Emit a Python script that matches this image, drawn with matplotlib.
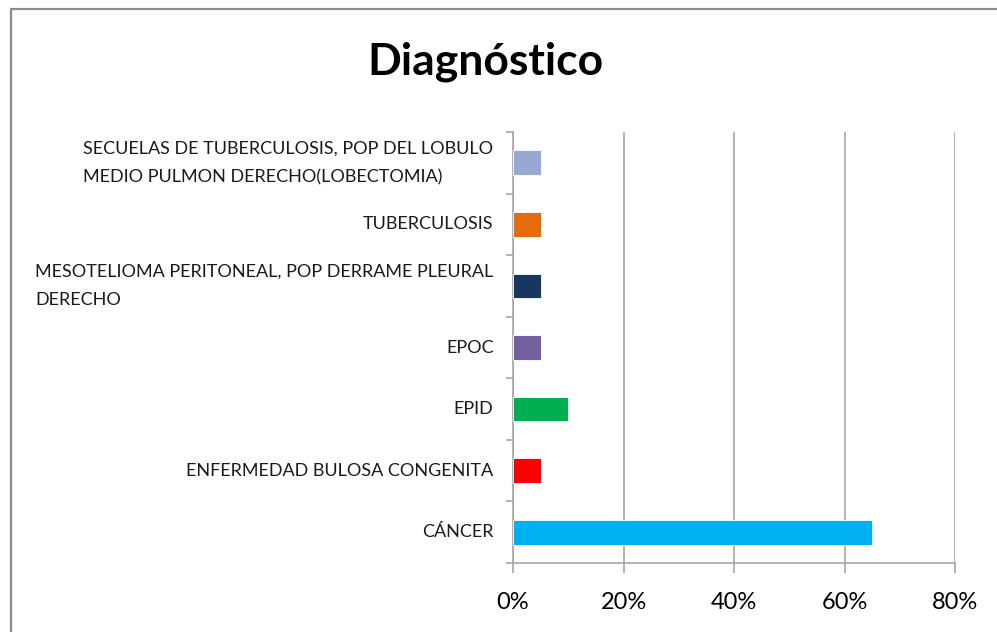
import matplotlib.pyplot as plt
from matplotlib.patches import Rectangle
from matplotlib.ticker import PercentFormatter

# Diagnósticos (de abajo hacia arriba) y porcentaje de pacientes
diagnosticos = [
    'CÁNCER',
    'ENFERMEDAD BULOSA CONGENITA',
    'EPID',
    'EPOC',
    'MESOTELIOMA PERITONEAL, POP DERRAME PLEURAL\nDERECHO',
    'TUBERCULOSIS',
    'SECUELAS DE TUBERCULOSIS, POP DEL LOBULO\nMEDIO PULMON DERECHO(LOBECTOMIA)',
]
porcentajes = [65, 5, 10, 5, 5, 5, 5]
colores = ['#00B0F0', '#FF0000', '#00B050', '#7560A0', '#17375E', '#E46C0A', '#95A9D3']
ticks_x = [0, 20, 40, 60, 80]

fig = plt.figure(figsize=(9.97, 6.32), dpi=100)
ax = fig.add_axes([0.5146, 0.1092, 0.4433, 0.6819])

pos = list(range(len(diagnosticos)))
ax.barh(pos, porcentajes, height=0.4, color=colores, edgecolor='white', linewidth=0.6, zorder=3)

ax.set_xlim(0, 80)
ax.set_ylim(-0.5, len(diagnosticos) - 0.5)
ax.set_xticks(ticks_x)
ax.xaxis.set_major_formatter(PercentFormatter(decimals=0))
ax.grid(axis='x', color='#A6A6A6', linewidth=1.2, zorder=0)
ax.tick_params(axis='x', length=7, width=1.2, color='#A6A6A6', pad=14, labelsize=17)
for lbl in ax.get_xticklabels():
    lbl.set_family(['Lato', 'DejaVu Sans'])

# etiquetas de categoría sin marca; las marcas van entre categorías
ax.set_yticks(pos)
ax.set_yticklabels(diagnosticos, ha='right', va='center', multialignment='left',
                   linespacing=1.95, fontsize=13, color='#1A1A1A',
                   family=['Lato', 'DejaVu Sans'])
ax.tick_params(axis='y', length=0, pad=14)
ax.set_yticks([p - 0.5 for p in pos] + [len(pos) - 0.5], minor=True)
ax.tick_params(axis='y', which='minor', length=5, width=1.2, color='#A6A6A6')

for lado in ['top', 'right']:
    ax.spines[lado].set_visible(False)
for lado in ['left', 'bottom']:
    ax.spines[lado].set_color('#A6A6A6')
    ax.spines[lado].set_linewidth(1.2)

fig.text(0.487, 0.903, 'Diagnóstico', ha='center', va='center', fontsize=32,
         fontweight='bold', family=['Lato', 'DejaVu Sans'])

# marco del gráfico
marco = Rectangle((11 / 997, -0.05), 1.1, 1 - 9 / 632 + 0.05, transform=fig.transFigure,
                  fill=False, edgecolor='#8C8C8C', linewidth=1.6)
fig.patches.append(marco)

fig.savefig('out.png', dpi=100)
